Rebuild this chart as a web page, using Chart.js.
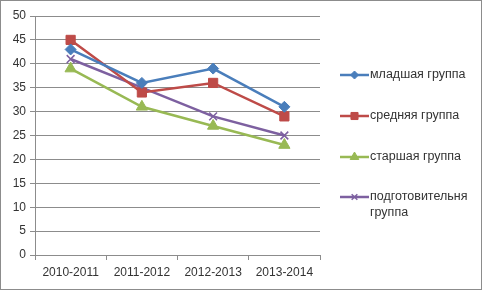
<!DOCTYPE html>
<html>
<head>
<meta charset="utf-8">
<script src="https://cdn.jsdelivr.net/npm/chart.js@4"></script>
<style>
  html, body { margin: 0; padding: 0; background: #fff; }
  #wrap { width: 482px; height: 290px; box-sizing: border-box; border: 1px solid #8c8c8c; }
  canvas { display: block; }
</style>
</head>
<body>
<div id="wrap"><canvas id="chart" width="480" height="288"></canvas></div>
<script>
const years = ["2010-2011", "2011-2012", "2012-2013", "2013-2014"];
const juniorGroup = [43, 36, 39, 31];
const middleGroup = [45, 34, 36, 29];
const seniorGroup = [39, 31, 27, 23];
const prepGroup = [41, 35, 29, 25];
const seriesNames = ["младшая группа", "средняя группа", "старшая группа", ["подготовительня", "группа"]];

const seriesColors = [
  "#4a7ebb",   // blue
  "#be4b48",   // red
  "#98b954",   // green
  "#7d60a0",   // purple
];
const markerStyles = ["rectRot", "rect", "triangle", "crossRot"];
const markerSizes = [5.5, 6.5, 6.5, 5.5];

const FONT = "'Liberation Sans', Arial, sans-serif";

function makeDataset(i, values) {
  return {
    label: Array.isArray(seriesNames[i]) ? seriesNames[i].join(" ") : seriesNames[i],
    data: values,
    borderColor: seriesColors[i],
    backgroundColor: seriesColors[i],
    borderWidth: 2.5,
    pointStyle: markerStyles[i],
    pointRadius: markerSizes[i],
    pointBorderWidth: markerStyles[i] === "crossRot" ? 1.5 : 1,
    tension: 0,
  };
}

// legend drawn by hand: line with marker in the middle, wrapped last label
const sideLegend = {
  id: "sideLegend",
  afterDraw(chart) {
    const ctx = chart.ctx;
    const rows = [74, 115, 156, 196];
    ctx.save();
    ctx.textBaseline = "middle";
    chart.data.datasets.forEach((ds, i) => {
      const y = rows[i];
      ctx.strokeStyle = ds.borderColor;
      ctx.fillStyle = ds.backgroundColor;
      ctx.lineWidth = 2.5;
      ctx.beginPath();
      ctx.moveTo(339, y);
      ctx.lineTo(368, y);
      ctx.stroke();
      ctx.lineWidth = ds.pointBorderWidth;
      Chart.helpers.drawPoint(ctx, {
        pointStyle: ds.pointStyle,
        radius: ds.pointRadius - 1.5,
        borderWidth: ds.pointBorderWidth,
        rotation: 0,
      }, 353.5, y);
      ctx.fillStyle = "#333";
      ctx.font = "12.5px " + FONT;
      const name = seriesNames[i];
      const lines = Array.isArray(name) ? name : [name];
      lines.forEach((t, k) => ctx.fillText(t, 369, y + k * 16));
    });
    ctx.restore();
  },
};

function createLineChart(ctx) {
  return new Chart(ctx, {
    type: "line",
    data: {
      labels: years,
      datasets: [
        makeDataset(0, juniorGroup),
        makeDataset(1, middleGroup),
        makeDataset(2, seniorGroup),
        makeDataset(3, prepGroup),
      ],
    },
    options: {
      responsive: false,
      animation: false,
      layout: { padding: { top: 15, right: 161, left: 0, bottom: 0 } },
      plugins: {
        legend: { display: false },
        tooltip: { enabled: false },
      },
      scales: {
        x: {
          offset: true,
          grid: {
            offset: true,
            drawOnChartArea: false,
            color: "#8c8c8c",
            tickLength: 5,
          },
          border: { color: "#8c8c8c" },
          ticks: { color: "#333", font: { family: FONT, size: 12 }, padding: 5, maxRotation: 0 },
          afterFit(scale) { scale.height = 34; },
        },
        y: {
          min: 0,
          max: 50,
          ticks: { stepSize: 5, color: "#333", font: { family: FONT, size: 12 }, padding: 4 },
          grid: { color: "#8c8c8c", tickLength: 5 },
          border: { color: "#8c8c8c" },
          afterFit(scale) { scale.width = 34; },
        },
      },
    },
    plugins: [sideLegend],
  });
}

let lineChart = createLineChart(document.getElementById("chart"));
</script>
</body>
</html>
